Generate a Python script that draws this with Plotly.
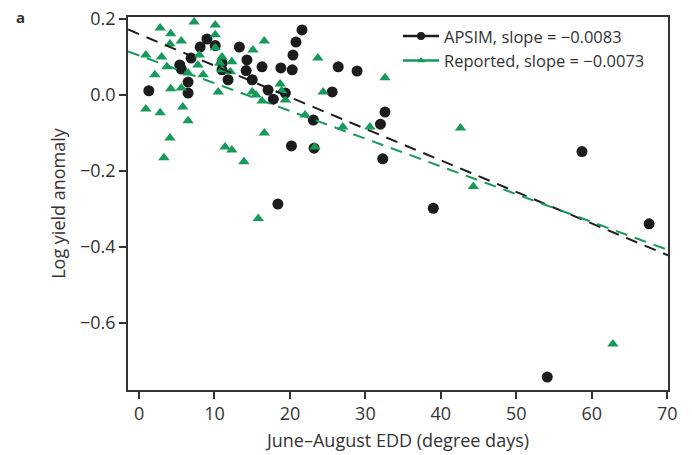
import plotly.graph_objects as go

# APSIM simulated (black circles)
apsim_x = [1.3, 5.4, 5.6, 6.9, 6.5, 6.5, 8.1, 9.0, 10.1, 11.0, 11.0, 11.8, 13.3, 14.3,
           14.2, 15.0, 16.3, 17.1, 17.8, 18.8, 19.4, 20.3, 20.4, 20.8, 21.6, 20.2, 18.4,
           23.1, 23.2, 25.6, 26.4, 28.9, 32.0, 32.6, 32.3, 39.0, 54.1, 58.7, 67.6]
apsim_y = [0.011, 0.079, 0.068, 0.097, 0.034, 0.005, 0.126, 0.147, 0.130, 0.084, 0.066,
           0.040, 0.126, 0.092, 0.064, 0.040, 0.074, 0.013, -0.011, 0.071, 0.005, 0.066,
           0.105, 0.139, 0.171, -0.134, -0.287, -0.066, -0.140, 0.008, 0.074, 0.063,
           -0.077, -0.045, -0.168, -0.298, -0.742, -0.149, -0.339]

# Reported (green triangles)
rep_x = [0.9, 0.9, 2.1, 2.8, 2.8, 3.0, 3.3, 3.7, 4.1, 4.2, 4.1, 4.2, 5.6, 5.6, 5.8, 6.5,
         6.5, 7.3, 7.8, 8.0, 8.5, 10.1, 10.1, 10.1, 10.5, 10.7, 11.0, 11.0, 12.1, 12.3,
         11.4, 12.3, 13.9, 15.1, 15.0, 15.5, 16.3, 16.6, 16.6, 15.8, 18.7, 18.9, 19.4,
         22.0, 23.3, 23.7, 24.4, 27.0, 30.6, 32.6, 42.6, 44.3, 62.8]
rep_y = [0.105, -0.037, 0.053, 0.176, -0.047, 0.100, -0.165, 0.074, 0.134, 0.161, -0.113,
         0.016, 0.142, 0.018, -0.032, 0.058, -0.068, 0.192, 0.079, 0.105, 0.053, 0.184,
         0.158, 0.124, 0.008, 0.084, 0.100, 0.066, 0.061, 0.087, -0.137, -0.145, -0.176,
         0.118, 0.008, 0.000, -0.016, 0.142, -0.100, -0.325, 0.029, 0.011, -0.013, -0.053,
         -0.137, 0.097, 0.008, -0.084, -0.084, 0.045, -0.087, -0.241, -0.655]

# Fitted lines (slope from legend, intercept)
apsim_slope, apsim_icpt = -0.0083, 0.160
rep_slope, rep_icpt = -0.0073, 0.104
fit_x = [-1.46, 70.1]

x_ticks = [0, 10, 20, 30, 40, 50, 60, 70]
y_ticks = [0.2, 0.0, -0.2, -0.4, -0.6]

BLACK = "#1c1c1c"
GREEN = "#159a5a"
TEXT = "#333333"
FONT = "Open Sans"

fig = go.Figure()
fig.add_trace(go.Scatter(x=apsim_x, y=apsim_y, mode="markers", showlegend=False,
                         marker=dict(symbol="circle", size=11, color=BLACK)))
fig.add_trace(go.Scatter(x=rep_x, y=rep_y, mode="markers", showlegend=False,
                         marker=dict(symbol="triangle-up", size=10, color=GREEN)))
fig.add_trace(go.Scatter(x=fit_x, y=[apsim_icpt + apsim_slope * v for v in fit_x],
                         mode="lines", showlegend=False,
                         line=dict(color=BLACK, width=2, dash="12px,8px")))
fig.add_trace(go.Scatter(x=fit_x, y=[rep_icpt + rep_slope * v for v in fit_x],
                         mode="lines", showlegend=False,
                         line=dict(color=GREEN, width=2, dash="12px,8px")))
# legend entries
fig.add_trace(go.Scatter(x=[None], y=[None], mode="lines+markers",
                         name="APSIM, slope = \u22120.0083",
                         line=dict(color=BLACK, width=2.5),
                         marker=dict(symbol="circle", size=8, color=BLACK)))
fig.add_trace(go.Scatter(x=[None], y=[None], mode="lines+markers",
                         name="Reported, slope = \u22120.0073",
                         line=dict(color=GREEN, width=2.5),
                         marker=dict(symbol="triangle-up", size=7, color=GREEN)))

axis_common = dict(showline=True, linecolor=TEXT, linewidth=1.5, mirror=True,
                   ticks="outside", ticklen=7, tickwidth=1.5, tickcolor=TEXT,
                   showgrid=False, zeroline=False, automargin=False,
                   tickfont=dict(family=FONT, size=18, color=TEXT))

fig.update_layout(
    width=692, height=455,
    margin=dict(l=128, r=24, t=17, b=65),
    paper_bgcolor="white", plot_bgcolor="white",
    font=dict(family=FONT, size=16, color=TEXT),
    showlegend=True,
    legend=dict(x=0.50, y=0.995, xanchor="left", yanchor="top",
                bgcolor="rgba(0,0,0,0)", itemwidth=36, tracegroupgap=0,
                font=dict(family=FONT, size=16.5, color=TEXT)),
    xaxis=dict(range=[-1.46, 70.1], tickvals=x_ticks,
               title=dict(text="June\u2013August EDD (degree days)", standoff=10,
                          font=dict(family=FONT, size=18, color=TEXT)),
               **axis_common),
    yaxis=dict(range=[-0.776, 0.205], tickvals=y_ticks, tickformat=".1f",
               title=dict(text="Log yield anomaly", standoff=10,
                          font=dict(family=FONT, size=18, color=TEXT)),
               **axis_common),
    annotations=[dict(text="<b>a</b>", xref="paper", yref="paper",
                      x=-0.212, y=1.0, xanchor="left", yanchor="middle",
                      showarrow=False, font=dict(family=FONT, size=15, color=TEXT))],
)

fig.write_html("out.html", config={"displayModeBar": False},
               post_script="document.body.style.margin='0';")
